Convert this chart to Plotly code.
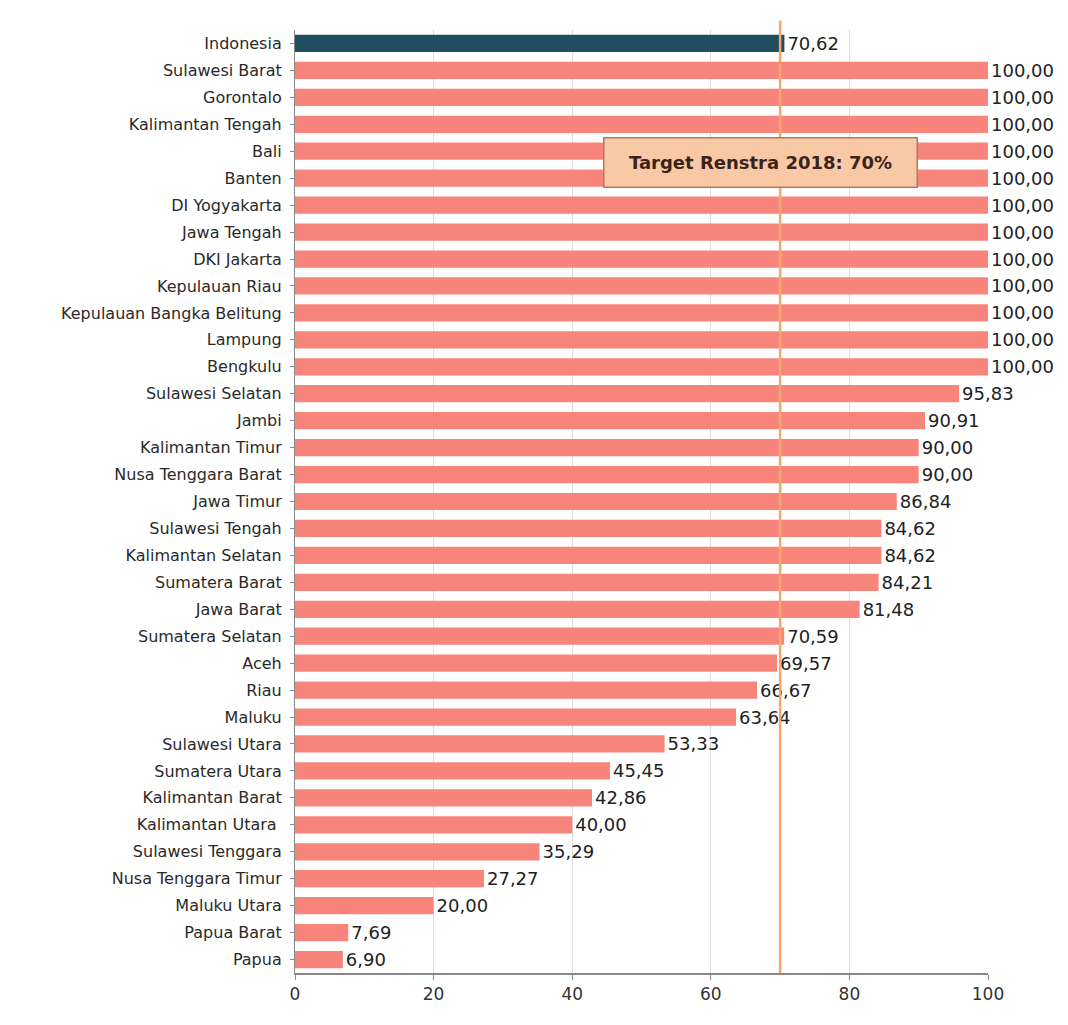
import plotly.graph_objects as go

provinces = ["Indonesia", "Sulawesi Barat", "Gorontalo", "Kalimantan Tengah", "Bali", "Banten",
             "DI Yogyakarta", "Jawa Tengah", "DKI Jakarta", "Kepulauan Riau",
             "Kepulauan Bangka Belitung", "Lampung", "Bengkulu", "Sulawesi Selatan", "Jambi",
             "Kalimantan Timur", "Nusa Tenggara Barat", "Jawa Timur", "Sulawesi Tengah",
             "Kalimantan Selatan", "Sumatera Barat", "Jawa Barat", "Sumatera Selatan", "Aceh",
             "Riau", "Maluku", "Sulawesi Utara", "Sumatera Utara", "Kalimantan Barat",
             "Kalimantan Utara ", "Sulawesi Tenggara", "Nusa Tenggara Timur", "Maluku Utara",
             "Papua Barat", "Papua"]
values = [70.62, 100, 100, 100, 100, 100, 100, 100, 100, 100, 100, 100, 100, 95.83, 90.91,
          90.00, 90.00, 86.84, 84.62, 84.62, 84.21, 81.48, 70.59, 69.57, 66.67, 63.64, 53.33,
          45.45, 42.86, 40.00, 35.29, 27.27, 20.00, 7.69, 6.90]
target = 70
x_ticks = [0, 20, 40, 60, 80, 100]

labels = [f"{v:.2f}".replace(".", ",") for v in values]
colors = ["#1f4e61" if p == "Indonesia" else "#f8857c" for p in provinces]

FONT = "DejaVu Sans, Open Sans, sans-serif"

fig = go.Figure()
fig.add_trace(go.Bar(
    y=provinces, x=values, orientation="h",
    marker=dict(color=colors, line=dict(width=0)),
    text=labels, textposition="outside", constraintext="none",
    textfont=dict(family=FONT, size=18, color="#222222"),
    cliponaxis=False, hoverinfo="x+y",
))

fig.add_shape(type="line", xref="x", yref="paper", x0=target, x1=target, y0=0, y1=1.01,
              line=dict(color="#f4a76f", width=2.5), layer="above")

fig.add_annotation(x=0.671, y=0.86, xref="paper", yref="paper",
                   text="<b>Target Renstra 2018: 70%</b>", showarrow=False,
                   font=dict(family=FONT, size=18, color="#3a2418"),
                   bgcolor="#f9c9a6", bordercolor="#b07a5c", borderwidth=1.5,
                   width=310, height=46, xanchor="center", yanchor="middle")

fig.update_layout(
    width=1068, height=1025,
    margin=dict(l=295, r=80, t=30, b=52),
    plot_bgcolor="white", paper_bgcolor="white",
    bargap=0.36, showlegend=False,
    font=dict(family=FONT, color="#333333"),
)
fig.update_yaxes(autorange="reversed", categoryorder="array", categoryarray=provinces,
                 tickfont=dict(size=16, color="#2a2a2a"), ticks="outside", ticklen=4,
                 tickcolor="#888888", showline=True, linecolor="#888888", linewidth=1,
                 ticksuffix=" ")
fig.update_xaxes(range=[0, 100], tickvals=x_ticks, tickfont=dict(size=17, color="#333333"),
                 showgrid=True, gridcolor="#dddddd", gridwidth=1, ticks="outside", ticklen=5,
                 tickcolor="#888888", showline=True, linecolor="#888888", linewidth=1.5,
                 zeroline=False)

fig.write_html("out.html")
